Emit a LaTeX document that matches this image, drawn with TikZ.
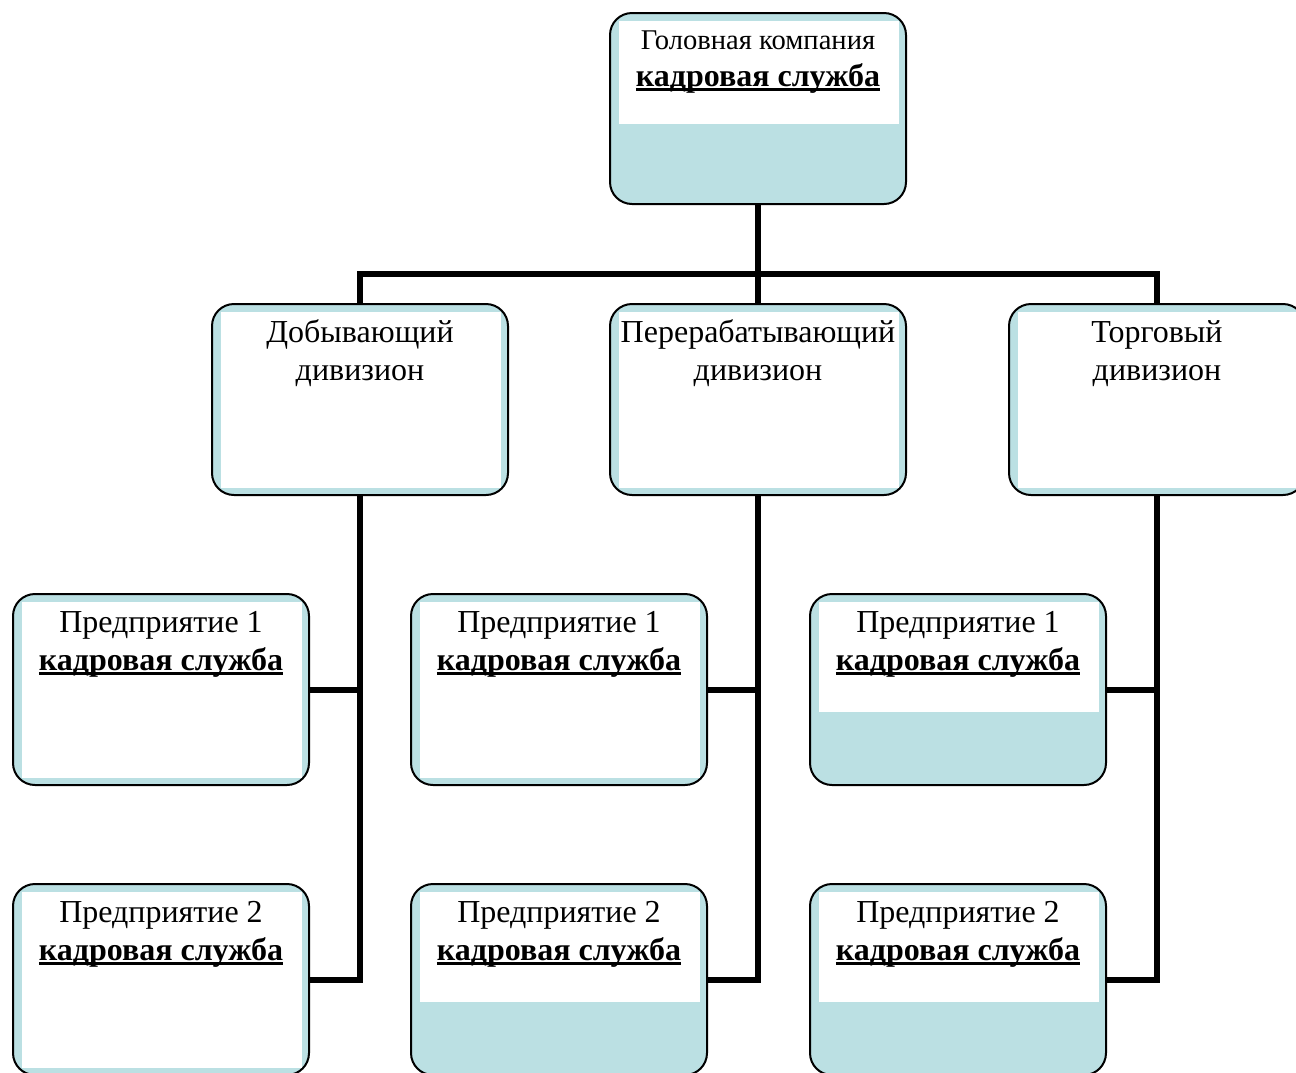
\documentclass[tikz,border=0pt]{standalone}
\usepackage{fontspec}
\setmainfont{Liberation Serif}
\definecolor{boxblue}{HTML}{BBE0E3}
\newcommand\ulbold[1]{\setbox0\hbox{\bfseries #1}\rlap{\rule[-2.6pt]{\wd0}{1.6pt}}\box0}
\newcommand\whitefull[1]{\fill[white] ([xshift=5pt,yshift=-4.5pt]#1.north west) rectangle ([xshift=-4pt,yshift=4pt]#1.south east);}
\newcommand\whitetop[2]{\fill[white] ([xshift=5pt,yshift=-4.5pt]#1.north west) rectangle ([xshift=-4pt,yshift=-#2]#1.north east);}
\begin{document}
\begin{tikzpicture}[x=0.5pt,y=-0.5pt,
  boxst/.style={draw, line width=1pt, rounded corners=11pt, fill=boxblue,
    minimum width=148pt, minimum height=95.5pt, inner sep=0pt},
  conn/.style={line width=3pt},
  lbl/.style={font=\fontsize{16}{19}\selectfont, inner sep=0pt, anchor=base},
  smalllbl/.style={lbl, font=\fontsize{14.3}{17}\selectfont}]
\useasboundingbox (0,0) rectangle (1296,1072);
\clip (0,0) rectangle (1296,1072);
\coordinate (bus) at (0,273.5);
% boxes
\node[boxst] (top) at (758,108.5) {};
\node[boxst] (d1) at (360,399.5) {};
\node[boxst] (d2) at (758,399.5) {};
\node[boxst] (d3) at (1157,399.5) {};
\node[boxst] (e11) at (161,689.5) {};
\node[boxst] (e21) at (559,689.5) {};
\node[boxst] (e31) at (958,689.5) {};
\node[boxst] (e12) at (161,979.5) {};
\node[boxst] (e22) at (559,979.5) {};
\node[boxst] (e32) at (958,979.5) {};
% white panels
\whitetop{top}{56pt}
\whitefull{d1}\whitefull{d2}\whitefull{d3}
\whitefull{e11}\whitefull{e21}\whitetop{e31}{59.5pt}
\whitefull{e12}\whitetop{e22}{59.5pt}\whitetop{e32}{59.5pt}
% connectors
\draw[conn] (top.south) -- (d2.north);
\draw[conn] (d1.north) -- (d1.north |- bus) -- (d3.north |- bus) -- (d3.north);
\draw[conn] (d1.south) |- (e12.east);
\draw[conn] (e11.east) -- (e11.east -| d1.south);
\draw[conn] (d2.south) |- (e22.east);
\draw[conn] (e21.east) -- (e21.east -| d2.south);
\draw[conn] (d3.south) |- (e32.east);
\draw[conn] (e31.east) -- (e31.east -| d3.south);
% labels
\node[smalllbl] (ta) at ([yshift=-18.5pt]top.north) {Головная компания};
\node[lbl] (tb) at ([yshift=-37pt]top.north) {\ulbold{кадровая служба}};
\node[lbl] (d1a) at ([yshift=-19.5pt]d1.north) {Добывающий};
\node[lbl] (d1b) at ([yshift=-38.5pt]d1.north) {дивизион};
\node[lbl] (d2a) at ([yshift=-19.5pt]d2.north) {Перерабатывающий};
\node[lbl] (d2b) at ([yshift=-38.5pt]d2.north) {дивизион};
\node[lbl] (d3a) at ([yshift=-19.5pt]d3.north) {Торговый};
\node[lbl] (d3b) at ([yshift=-38.5pt]d3.north) {дивизион};
\foreach \n/\k in {e11/1,e21/1,e31/1,e12/2,e22/2,e32/2}{
  \node[lbl] (\n a) at ([yshift=-19.5pt]\n.north) {Предприятие \k};
  \node[lbl] (\n b) at ([yshift=-38.5pt]\n.north) {\ulbold{кадровая служба}};
}
\end{tikzpicture}
\end{document}
